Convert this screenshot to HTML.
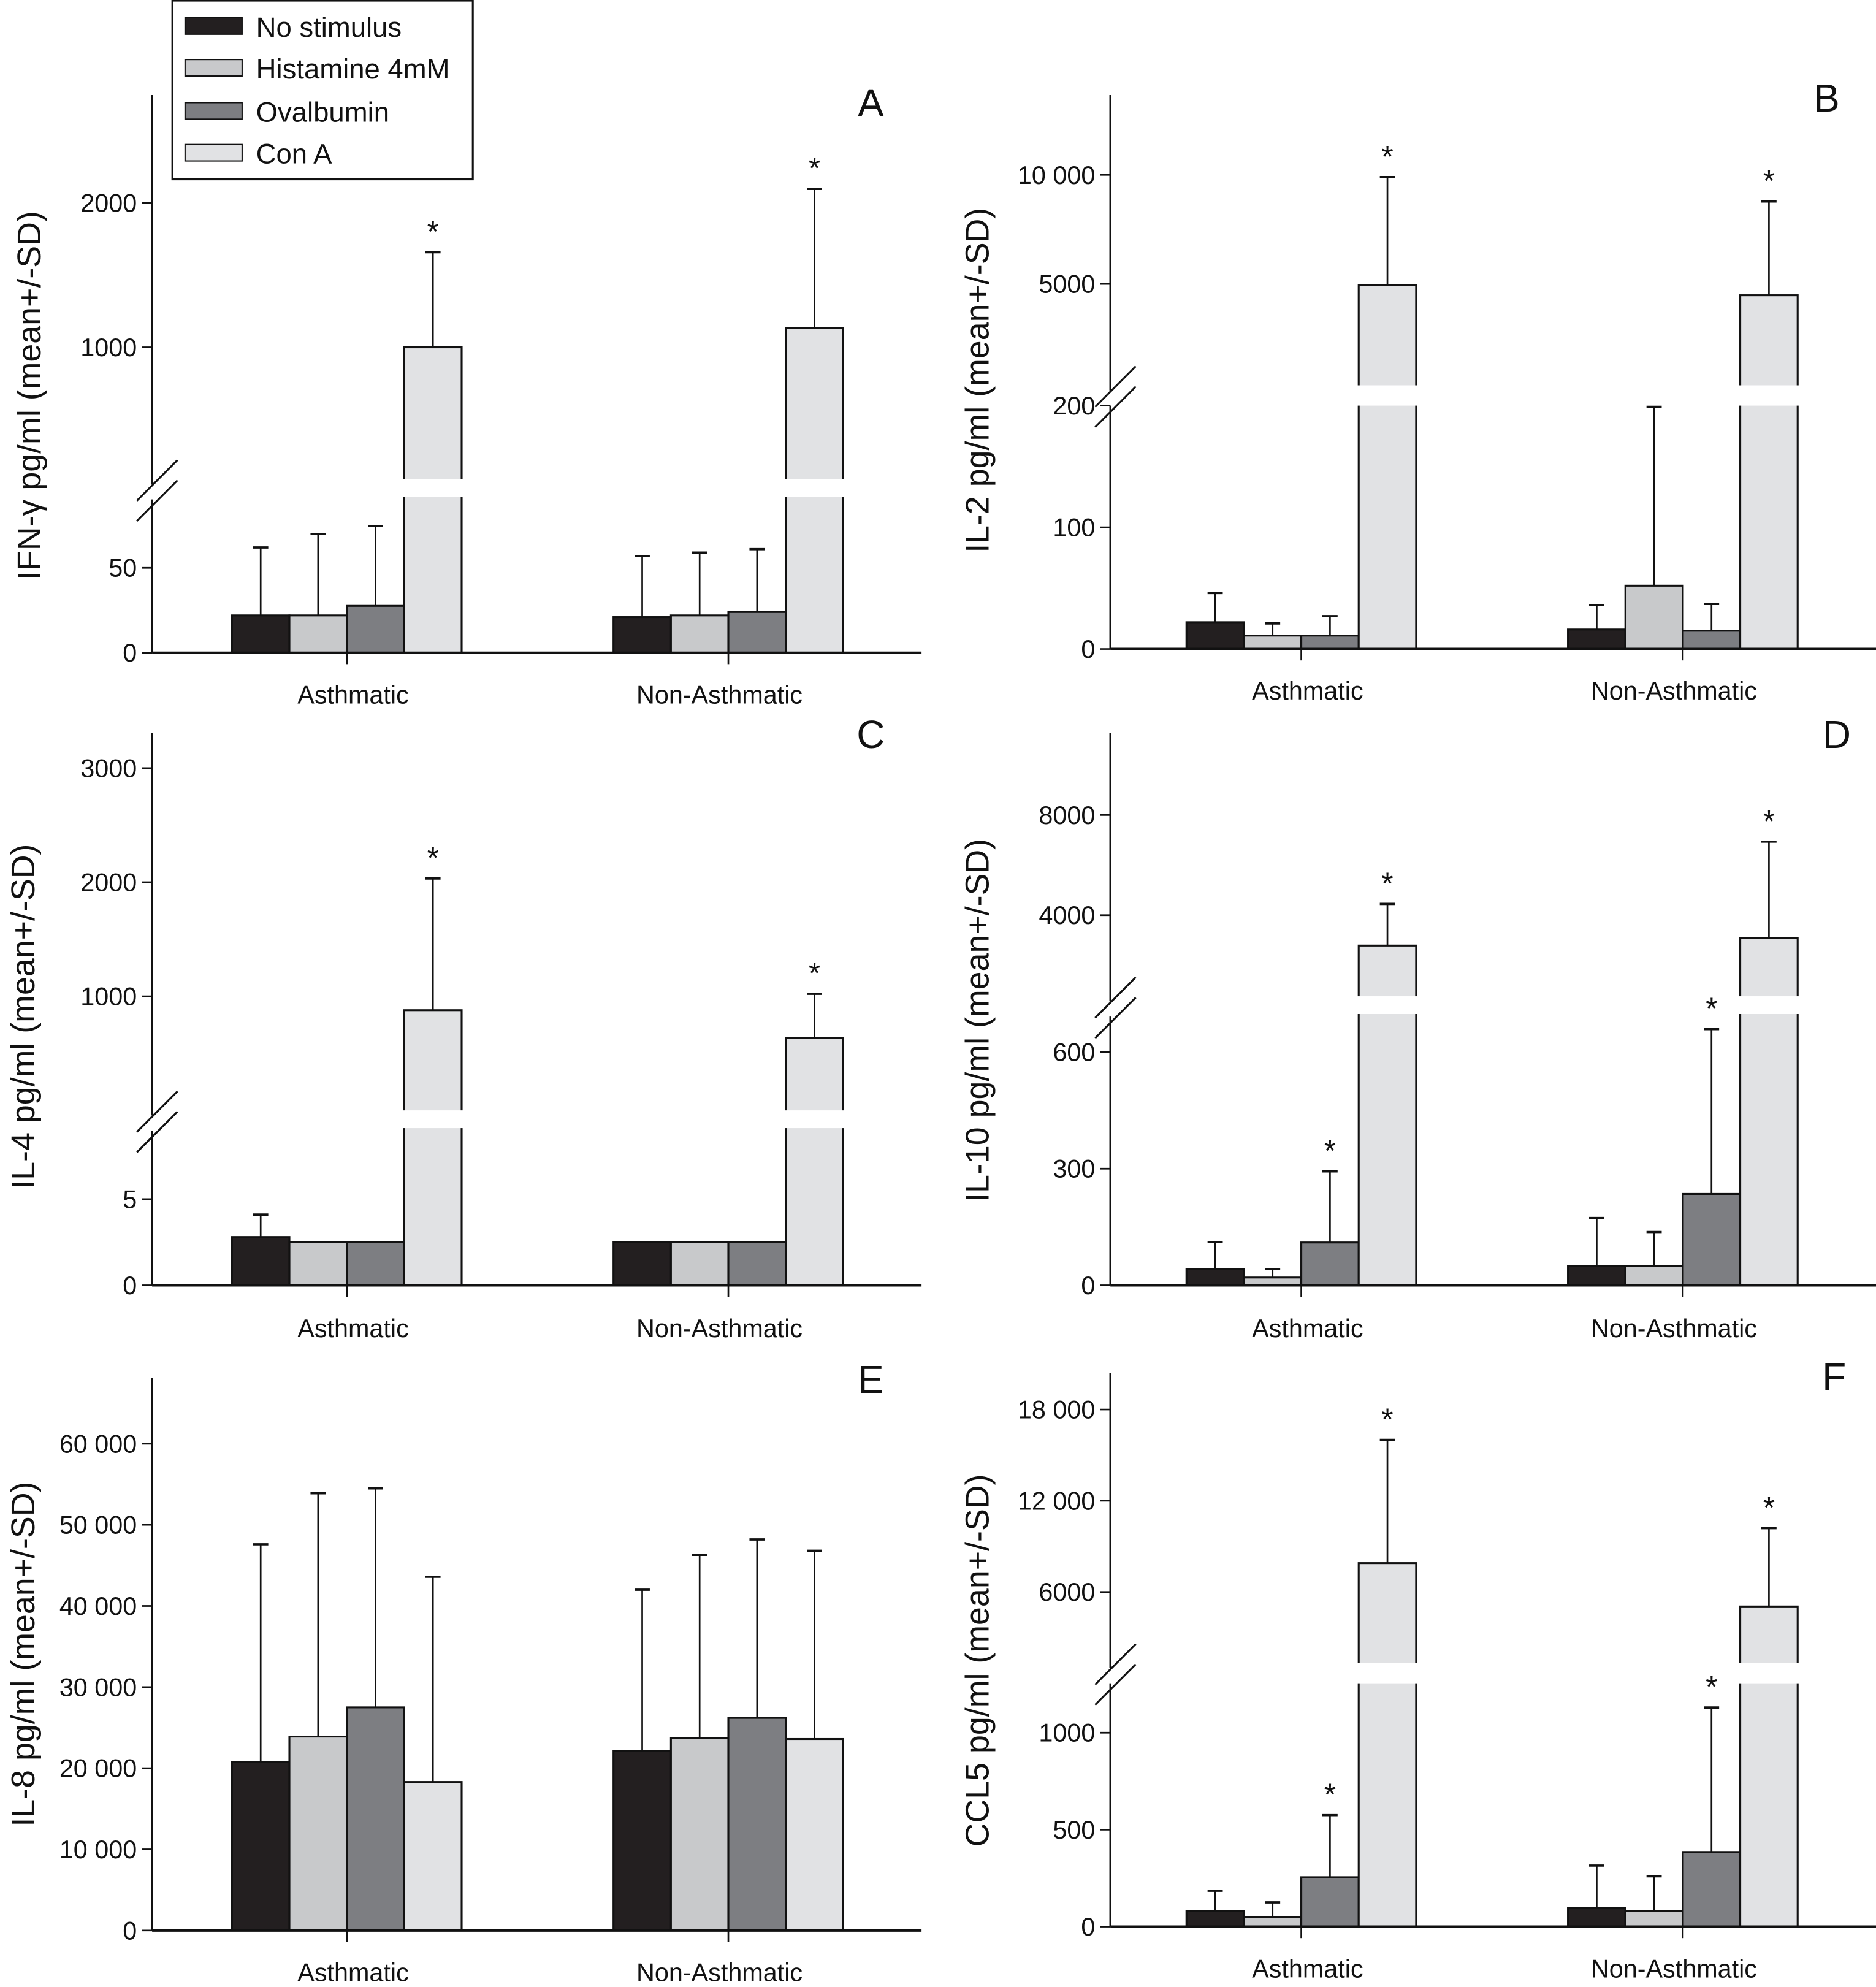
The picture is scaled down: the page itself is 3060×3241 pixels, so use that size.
<!DOCTYPE html>
<html><head><meta charset="utf-8"><style>
html,body{margin:0;padding:0;background:#fff;}
svg{display:block;}
text{font-family:"Liberation Sans",Arial,sans-serif;fill:#111;}
</style></head><body>
<svg id="chart" xmlns="http://www.w3.org/2000/svg" width="3060" height="3241" viewBox="0 0 1480 1567.6" preserveAspectRatio="none">
<g id="legend">
<rect x="136" y="0.5" width="237" height="141" fill="#fff" stroke="#111" stroke-width="1.5"/>
<g><rect x="146" y="14" width="45" height="13" fill="#231f20" stroke="#111"/><text x="202" y="29" font-size="22">No stimulus</text></g>
<g><rect x="146" y="47" width="45" height="13" fill="#c8c9cb" stroke="#111"/><text x="202" y="62" font-size="22">Histamine 4mM</text></g>
<g><rect x="146" y="81" width="45" height="13" fill="#7d7e82" stroke="#111"/><text x="202" y="96" font-size="22">Ovalbumin</text></g>
<g><rect x="146" y="114" width="45" height="13" fill="#e1e2e4" stroke="#111"/><text x="202" y="129" font-size="22">Con A</text></g>
</g>
</svg>
<script>
const categories = ["Asthmatic", "Non-Asthmatic"];
const seriesNames = ["No stimulus", "Histamine 4mM", "Ovalbumin", "Con A"];
// Panel A IFN-gamma
const meanA = [[22, 22, 27.6, 1000], [21, 22, 24, 1132]];
const sdA = [[62, 70, 74.6, 1658], [57, 59, 61, 2096]];
// Panel B IL-2
const meanB = [[22, 11, 11, 4950], [16, 52, 15, 4480]];
const sdB = [[46, 21, 27, 9900], [36, 199, 37, 8780]];
// Panel C IL-4
const meanC = [[2.8, 2.5, 2.5, 878], [2.5, 2.5, 2.5, 633]];
const sdC = [[4.1, 2.5, 2.5, 2033], [2.5, 2.5, 2.5, 1022]];
// Panel D IL-10
const meanD = [[42, 20, 110, 2785], [49, 50, 235, 3089]];
const sdD = [[111, 42, 293, 4450], [173, 137, 659, 6937]];
// Panel E IL-8
const meanE = [[20800, 23900, 27500, 18300], [22100, 23700, 26200, 23600]];
const sdE = [[47600, 53900, 54500, 43600], [42000, 46300, 48200, 46800]];
// Panel F CCL5
const meanF = [[80, 50, 255, 7900], [95, 80, 385, 5050]];
const sdF = [[185, 125, 575, 16000], [315, 260, 1130, 10200]];
// tick values / labels
const ticksA = [0, 50, 1000, 2000];
const tickLabelsA = ["0", "50", "1000", "2000"];
const ticksB = [0, 100, 200, 5000, 10000];
const tickLabelsB = ["0", "100", "200", "5000", "10 000"];
const ticksC = [0, 5, 1000, 2000, 3000];
const tickLabelsC = ["0", "5", "1000", "2000", "3000"];
const ticksD = [0, 300, 600, 4000, 8000];
const tickLabelsD = ["0", "300", "600", "4000", "8000"];
const ticksE = [0, 10000, 20000, 30000, 40000, 50000, 60000];
const tickLabelsE = ["0", "10 000", "20 000", "30 000", "40 000", "50 000", "60 000"];
const ticksF = [0, 500, 1000, 6000, 12000, 18000];
const tickLabelsF = ["0", "500", "1000", "6000", "12 000", "18 000"];
// significance flags [group][series]
const starsA = [[0,0,0,1],[0,0,0,1]];
const starsB = [[0,0,0,1],[0,0,0,1]];
const starsC = [[0,0,0,1],[0,0,0,1]];
const starsD = [[0,0,1,1],[0,0,1,1]];
const starsE = [[0,0,0,0],[0,0,0,0]];
const starsF = [[0,0,1,1],[0,0,1,1]];

const colors = ["#231f20", "#c8c9cb", "#7d7e82", "#e1e2e4"];
const NS = "http://www.w3.org/2000/svg";
const svg = document.getElementById("chart");
function mk(tag, attrs, parent) {
  const e = document.createElementNS(NS, tag);
  for (const k in attrs) e.setAttribute(k, attrs[k]);
  (parent || svg).appendChild(e);
  return e;
}
const panels = [
  {id:"a", letter:"A", title:"IFN-\u03b3 pg/ml (mean+/-SD)", ax:120, off:63, top:75, base:515, right:727, lo:[0,50,515,448], up:[1000,2000,274,160], gap:[378,392], mean:meanA, sd:sdA, ticks:ticksA, tl:tickLabelsA, stars:starsA, lx:687, ly:92, ty:312, tx:32, cy:555},
  {id:"b", letter:"B", title:"IL-2 pg/ml (mean+/-SD)", ax:876, off:60, top:75, base:512, right:1480, lo:[0,200,512,320], up:[5000,10000,224,138], gap:[304,320], mean:meanB, sd:sdB, ticks:ticksB, tl:tickLabelsB, stars:starsB, lx:1441, ly:88, ty:300, tx:780, cy:552},
  {id:"c", letter:"C", title:"IL-4 pg/ml (mean+/-SD)", ax:120, off:63, top:578, base:1014, right:727, lo:[0,5,1014,946], up:[1000,3000,786,606], gap:[876,890], mean:meanC, sd:sdC, ticks:ticksC, tl:tickLabelsC, stars:starsC, lx:687, ly:590, ty:802, tx:27, cy:1055},
  {id:"d", letter:"D", title:"IL-10 pg/ml (mean+/-SD)", ax:876, off:60, top:578, base:1014, right:1480, lo:[0,600,1014,830], up:[4000,8000,722,643], gap:[786,800], mean:meanD, sd:sdD, ticks:ticksD, tl:tickLabelsD, stars:starsD, lx:1449, ly:590, ty:805, tx:780, cy:1055},
  {id:"e", letter:"E", title:"IL-8 pg/ml (mean+/-SD)", ax:120, off:63, top:1087, base:1523, right:727, lo:[0,60000,1523,1139], up:null, gap:null, mean:meanE, sd:sdE, ticks:ticksE, tl:tickLabelsE, stars:starsE, lx:687, ly:1099, ty:1305, tx:27, cy:1563},
  {id:"f", letter:"F", title:"CCL5 pg/ml (mean+/-SD)", ax:876, off:60, top:1083, base:1520, right:1480, lo:[0,1000,1520,1367], up:[6000,18000,1256,1112], gap:[1312,1328], mean:meanF, sd:sdF, ticks:ticksF, tl:tickLabelsF, stars:starsF, lx:1447, ly:1097, ty:1310, tx:780, cy:1560}
];
function makeScale(p) {
  return function(v) {
    const l = p.lo;
    const yl = l[2] + (v - l[0]) / (l[1] - l[0]) * (l[3] - l[2]);
    if (!p.up || yl >= p.gap[1]) return yl;
    const u = p.up;
    return u[2] + (v - u[0]) / (u[1] - u[0]) * (u[3] - u[2]);
  };
}
const BW = 45.3;
const labelShift = [5, -7];
panels.forEach(function(p) {
  const y = makeScale(p);
  const g = mk("g", {});
  
  
  const t = mk("text", {x: p.tx, y: p.ty, "font-size": 26, "text-anchor": "middle", transform: "rotate(-90 " + p.tx + " " + p.ty + ")"}, g);
  t.textContent = p.title;
  
  
  const L = mk("text", {x: p.lx, y: p.ly, "font-size": 31, "text-anchor": "middle"}, g);
  L.textContent = p.letter;
  
  
  for (let gi = 0; gi < categories.length; gi++) {
    const gx = p.ax + p.off + gi * 301;
    for (let si = 0; si < seriesNames.length; si++) {
      const x = gx + si * BW;
      const v = p.mean[gi][si], e = p.sd[gi][si];
      const yt = y(v), ye = y(e);
      const cx = x + BW / 2;
      const eb = mk("line", {x1: cx, x2: cx, y1: yt, y2: ye, stroke: "#111", "stroke-width": 1.3}, g);
      
      
      const cap = mk("line", {x1: cx - 6, x2: cx + 6, y1: ye, y2: ye, stroke: "#111", "stroke-width": 1.8}, g);
      
      
      const r = mk("rect", {x: x, y: yt, width: BW, height: p.base - yt, fill: colors[si], stroke: "#111", "stroke-width": 1.5}, g);
      
      
      if (p.gap && yt < p.gap[0]) {
        mk("rect", {x: x - 1.5, y: p.gap[0], width: BW + 3, height: p.gap[1] - p.gap[0], fill: "#fff"}, g);
      }
      if (p.stars[gi][si]) {
        const s = mk("text", {x: cx, y: ye - 8, "font-size": 24, "text-anchor": "middle"}, g);
        s.textContent = "*";
        
        
      }
    }
    const tx = gx + 2 * BW;
    mk("line", {x1: tx, x2: tx, y1: p.base, y2: p.base + 9, stroke: "#111", "stroke-width": 1.3}, g);
    const cl = mk("text", {x: tx + labelShift[gi], y: p.cy, "font-size": 20, "text-anchor": "middle"}, g);
    cl.textContent = categories[gi];
    
    
  }
  const ya = mk("line", {x1: p.ax, x2: p.ax, y1: p.top, y2: p.base, stroke: "#111", "stroke-width": 1.6}, g);
  
  
  const xa = mk("line", {x1: p.ax, x2: p.right, y1: p.base, y2: p.base, stroke: "#111", "stroke-width": 2}, g);
  
  
  if (p.gap) {
    const g1 = p.gap[0];
    mk("rect", {x: p.ax - 3, y: g1 + 4, width: 6, height: 12, fill: "#fff"}, g);
    mk("line", {x1: p.ax - 12, y1: g1 + 17, x2: p.ax + 20, y2: g1 - 15, stroke: "#111", "stroke-width": 1.5}, g);
    mk("line", {x1: p.ax - 12, y1: g1 + 33, x2: p.ax + 20, y2: g1 + 1, stroke: "#111", "stroke-width": 1.5}, g);
  }
  p.ticks.forEach(function(tv, i) {
    const ty = y(tv);
    mk("line", {x1: p.ax - 8, x2: p.ax, y1: ty, y2: ty, stroke: "#111", "stroke-width": 1.3}, g);
    const tl = mk("text", {x: p.ax - 12, y: ty + 7, "font-size": 20, "text-anchor": "end"}, g);
    tl.textContent = p.tl[i];
    
    
  });
});
svg.appendChild(document.getElementById("legend"));
</script>
</body></html>
